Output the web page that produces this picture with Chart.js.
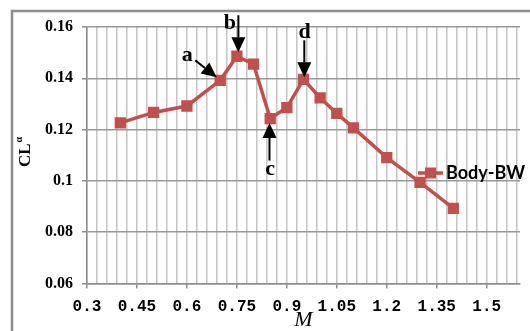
<!DOCTYPE html>
<html>
<head>
<meta charset="utf-8">
<script src="https://cdn.jsdelivr.net/npm/chart.js@4/dist/chart.umd.min.js"></script>
<style>
  html, body { margin: 0; padding: 0; background: #fff; }
  #wrap { width: 530px; height: 331px; position: relative; }
</style>
</head>
<body>
<div id="wrap"><canvas id="grafico"></canvas></div>
<script>
// Mach number and lift slope for Body-BW
const mach = [0.4, 0.5, 0.6, 0.7, 0.75, 0.8, 0.85, 0.9, 0.95, 1.0, 1.05, 1.1, 1.2, 1.3, 1.4];
const clAlpha = [0.1226, 0.1267, 0.1292, 0.1392, 0.1486, 0.1455, 0.1243, 0.1286, 0.1396, 0.1324, 0.1263, 0.1207, 0.1091, 0.0994, 0.0893];
const xLabels = [0.3, 0.45, 0.6, 0.75, 0.9, 1.05, 1.2, 1.35, 1.5];
const yTicks = [0.06, 0.08, 0.1, 0.12, 0.14, 0.16];
const xMinorStep = 0.03;
const serieNome = 'Body-BW';

// letters pointing at points: index into the series
const marcas = [
  { txt: 'a', idx: 3, tx: -33, ty: -25, x1: -25, y1: -20, x2: -3.5, y2: -3 },
  { txt: 'b', idx: 4, tx: -7, ty: -33, x1: 1.5, y1: -41, x2: 1.5, y2: -4 },
  { txt: 'c', idx: 6, tx: 0, ty: 51, x1: -0.7, y1: 42, x2: -0.7, y2: 4.4 },
  { txt: 'd', idx: 8, tx: 1, ty: -47, x1: 0.8, y1: -39, x2: 0.8, y2: -2 }
];

const cor = '#C0504D';

const ehMaior = v => xLabels.some(l => Math.abs(l - v) < 1e-6);

function seta(ctx, x1, y1, x2, y2) {
  const ang = Math.atan2(y2 - y1, x2 - x1);
  const len = 15, half = 7;
  const bx = x2 - Math.cos(ang) * len, by = y2 - Math.sin(ang) * len;
  ctx.beginPath();
  ctx.moveTo(x1, y1);
  ctx.lineTo(bx, by);
  ctx.lineWidth = 2;
  ctx.strokeStyle = '#000';
  ctx.stroke();
  ctx.beginPath();
  ctx.moveTo(x2, y2);
  ctx.lineTo(bx - Math.sin(ang) * half, by + Math.cos(ang) * half);
  ctx.lineTo(bx + Math.sin(ang) * half, by - Math.cos(ang) * half);
  ctx.closePath();
  ctx.fillStyle = '#000';
  ctx.fill();
}

const extras = {
  id: 'extras',
  beforeDraw(chart) {
    const ctx = chart.ctx;
    ctx.save();
    ctx.strokeStyle = '#8c8c8c';
    ctx.lineWidth = 2.5;
    ctx.beginPath();
    ctx.moveTo(12, 331);
    ctx.lineTo(12, 11);
    ctx.lineTo(530, 11);
    ctx.stroke();
    ctx.restore();
  },
  afterDraw(chart) {
    const ctx = chart.ctx;
    const xs = chart.scales.x, ys = chart.scales.y;
    ctx.save();

    // annotations a-d
    marcas.forEach(m => {
      const px = xs.getPixelForValue(mach[m.idx]);
      const py = ys.getPixelForValue(clAlpha[m.idx]);
      seta(ctx, px + m.x1, py + m.y1, px + m.x2, py + m.y2);
      ctx.fillStyle = '#000';
      ctx.font = 'bold 22px "Liberation Serif"';
      ctx.textAlign = 'center';
      ctx.textBaseline = 'middle';
      ctx.fillText(m.txt, px + m.tx, py + m.ty);
    });

    // legend
    const ly = 173;
    ctx.strokeStyle = cor;
    ctx.lineWidth = 3.5;
    ctx.beginPath();
    ctx.moveTo(418, ly);
    ctx.lineTo(443, ly);
    ctx.stroke();
    ctx.fillStyle = cor;
    ctx.fillRect(425, ly - 5.5, 11, 11);
    ctx.fillStyle = '#000';
    ctx.font = 'bold 18px Lato';
    ctx.textAlign = 'left';
    ctx.textBaseline = 'middle';
    ctx.fillText(serieNome, 446, ly);

    // axis titles
    ctx.font = 'italic 22px "Liberation Serif"';
    ctx.textAlign = 'center';
    ctx.textBaseline = 'middle';
    ctx.fillText('M', (xs.left + xs.right) / 2, 320);

    ctx.translate(24, (ys.top + ys.bottom) / 2 - 4);
    ctx.rotate(-Math.PI / 2);
    ctx.font = 'bold 17px "Liberation Serif"';
    ctx.textAlign = 'center';
    ctx.textBaseline = 'middle';
    ctx.fillText('CL', -4, 2);
    const w = ctx.measureText('CL').width;
    ctx.font = 'bold 10px "Liberation Serif"';
    ctx.textAlign = 'left';
    ctx.fillText('α', -4 + w / 2 + 1, -5);
    ctx.restore();
  }
};

new Chart(document.getElementById('grafico'), {
  type: 'line',
  data: {
    datasets: [{
      label: serieNome,
      data: mach.map((m, i) => ({ x: m, y: clAlpha[i] })),
      borderColor: cor,
      backgroundColor: cor,
      borderWidth: 3.5,
      pointStyle: 'rect',
      pointRadius: 8,
      pointBorderWidth: 0,
      tension: 0
    }]
  },
  options: {
    responsive: true,
    maintainAspectRatio: false,
    animation: false,
    layout: { padding: { top: 27, right: 10, left: 0, bottom: 0 } },
    plugins: { legend: { display: false }, tooltip: { enabled: false } },
    scales: {
      x: {
        type: 'linear',
        min: 0.3,
        max: 1.6,
        afterFit: s => { s.height = 47.5; },
        afterBuildTicks: s => {
          const t = [];
          for (let v = 0.3; v < 1.6 - 1e-6; v += xMinorStep) t.push({ value: Math.round(v * 100) / 100 });
          s.ticks = t;
        },
        grid: {
          color: '#c4c4c4',
          lineWidth: 1.5,
          tickLength: 5,
          tickColor: c => (c.tick && ehMaior(c.tick.value)) ? '#8c8c8c' : 'rgba(0,0,0,0)'
        },
        border: { color: '#8c8c8c', width: 1.5 },
        ticks: {
          autoSkip: false,
          maxRotation: 0,
          padding: 9,
          color: '#000',
          font: { family: '"Liberation Mono"', size: 16, weight: 'bold' },
          callback: v => ehMaior(v) ? String(v) : ''
        }
      },
      y: {
        min: 0.06,
        max: 0.16,
        afterFit: s => { s.width = 87; },
        afterBuildTicks: s => { s.ticks = yTicks.map(v => ({ value: v })); },
        grid: { color: '#999', lineWidth: 1.5, tickLength: 5, tickColor: '#8c8c8c' },
        border: { color: '#8c8c8c', width: 1.5 },
        ticks: {
          padding: 9,
          color: '#000',
          font: { family: '"Liberation Serif"', size: 16, weight: 'bold' },
          callback: v => String(v)
        }
      }
    }
  },
  plugins: [extras]
});
</script>
</body>
</html>
